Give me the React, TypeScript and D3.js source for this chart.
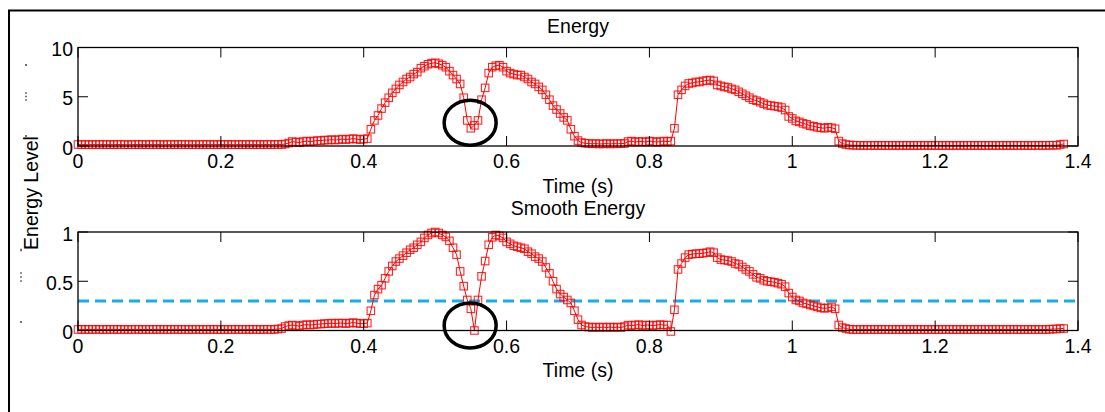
import React from "react";
import * as d3 from "d3";

// ---- data ----
const DT = 0.005; // seconds between frames
const energy: number[] = [
  0.15,0.14,0.15,0.13,0.15,0.14,0.15,0.15,0.14,0.15,
  0.14,0.15,0.15,0.14,0.13,0.15,0.14,0.15,0.15,0.14,
  0.15,0.14,0.15,0.15,0.13,0.14,0.15,0.14,0.15,0.15,
  0.14,0.15,0.13,0.15,0.14,0.15,0.15,0.14,0.15,0.14,
  0.15,0.15,0.14,0.15,0.13,0.15,0.14,0.15,0.15,0.14,
  0.15,0.14,0.15,0.15,0.14,0.15,0.16,0.15,0.2,0.3,
  0.45,0.4,0.35,0.45,0.5,0.45,0.5,0.55,0.55,0.6,
  0.6,0.65,0.6,0.65,0.7,0.65,0.7,0.75,0.7,0.65,
  0.7,0.75,1.7,2.6,3.1,3.8,4.4,4.9,5.4,5.8,
  6.2,6.5,6.8,7.0,7.3,7.5,7.9,8.1,8.3,8.4,
  8.45,8.35,8.2,8.0,7.6,7.2,6.8,6.3,4.9,2.6,
  1.8,2.1,2.6,4.7,5.9,7.4,8.0,8.15,8.2,8.0,
  7.6,7.4,7.3,7.2,7.2,7.0,6.8,6.5,6.3,6.0,
  5.7,5.2,4.7,4.1,3.7,3.3,2.9,2.6,1.7,1.0,
  0.55,0.35,0.28,0.25,0.22,0.25,0.2,0.22,0.25,0.2,
  0.25,0.22,0.25,0.25,0.45,0.5,0.4,0.45,0.45,0.4,
  0.5,0.45,0.4,0.45,0.5,0.45,0.5,1.8,5.2,5.7,
  6.1,6.35,6.4,6.5,6.5,6.6,6.65,6.7,6.6,6.2,
  6.1,6.0,5.95,5.8,5.7,5.5,5.3,5.1,4.9,4.7,
  4.6,4.45,4.3,4.15,4.1,4.05,4.0,3.9,3.65,3.0,
  2.8,2.55,2.45,2.3,2.2,2.05,2.0,1.9,1.85,1.8,
  1.9,1.85,1.75,0.5,0.25,0.15,0.1,0.08,0.07,0.06,
  0.06,0.05,0.06,0.06,0.05,0.06,0.06,0.05,0.06,0.06,
  0.05,0.06,0.06,0.05,0.06,0.06,0.05,0.06,0.06,0.05,
  0.06,0.06,0.05,0.06,0.06,0.05,0.06,0.06,0.05,0.06,
  0.06,0.05,0.06,0.06,0.05,0.06,0.06,0.05,0.06,0.06,
  0.05,0.06,0.06,0.05,0.06,0.06,0.05,0.06,0.06,0.05,
  0.06,0.06,0.07,0.08,0.07,0.15,0.2,
];
const smoothEnergy: number[] = [
  0.01,0.012,0.01,0.011,0.01,0.012,0.01,0.01,0.011,0.01,
  0.012,0.01,0.01,0.011,0.01,0.01,0.012,0.01,0.01,0.011,
  0.01,0.01,0.012,0.01,0.011,0.01,0.01,0.012,0.01,0.01,
  0.011,0.01,0.01,0.012,0.01,0.01,0.011,0.01,0.012,0.01,
  0.01,0.011,0.01,0.01,0.012,0.01,0.01,0.011,0.01,0.012,
  0.01,0.01,0.011,0.012,0.01,0.011,0.015,0.02,0.04,0.05,
  0.055,0.05,0.045,0.055,0.06,0.055,0.06,0.065,0.065,0.07,
  0.07,0.075,0.07,0.075,0.075,0.07,0.075,0.08,0.075,0.07,
  0.07,0.075,0.2,0.36,0.42,0.46,0.53,0.6,0.655,0.7,
  0.73,0.76,0.79,0.82,0.84,0.87,0.9,0.94,0.97,0.99,
  1.0,0.99,0.97,0.95,0.91,0.84,0.77,0.6,0.45,0.31,
  0.22,0.0,0.31,0.55,0.705,0.87,0.946,0.97,0.96,0.94,
  0.9,0.88,0.86,0.85,0.84,0.83,0.8,0.78,0.75,0.73,
  0.7,0.64,0.58,0.5,0.42,0.37,0.34,0.31,0.28,0.2,
  0.11,0.056,0.04,0.035,0.03,0.035,0.03,0.035,0.03,0.035,
  0.03,0.035,0.03,0.04,0.055,0.05,0.055,0.06,0.05,0.055,
  0.055,0.05,0.055,0.06,0.055,0.055,-0.01,0.21,0.62,0.68,
  0.74,0.77,0.775,0.78,0.78,0.785,0.79,0.8,0.79,0.74,
  0.72,0.715,0.71,0.7,0.68,0.67,0.645,0.62,0.6,0.57,
  0.54,0.53,0.51,0.5,0.495,0.49,0.48,0.47,0.445,0.38,
  0.34,0.31,0.3,0.28,0.27,0.26,0.25,0.24,0.23,0.225,
  0.23,0.24,0.22,0.056,0.03,0.02,0.012,0.01,0.01,0.01,
  0.01,0.01,0.011,0.01,0.01,0.01,0.011,0.01,0.01,0.01,
  0.01,0.011,0.01,0.01,0.01,0.01,0.011,0.01,0.01,0.01,
  0.011,0.01,0.01,0.01,0.011,0.01,0.01,0.01,0.01,0.011,
  0.01,0.01,0.01,0.011,0.01,0.01,0.01,0.011,0.01,0.01,
  0.01,0.011,0.01,0.01,0.01,0.011,0.01,0.01,0.01,0.01,
  0.01,0.01,0.012,0.015,0.015,0.02,0.02,
];
const threshold = 0.3;
const xTicks = [0, 0.2, 0.4, 0.6, 0.8, 1, 1.2, 1.4];
const yTicksTop = [0, 5, 10];
const yTicksBottom = [0, 0.5, 1];
const titles = ["Energy", "Smooth Energy"];
const xLabel = "Time (s)";
const yLabel = "Energy Level";
const circledTime = 0.549;

const FONT = "'Liberation Sans', Arial, Helvetica, sans-serif";
const FS = 19.5;

type PanelProps = {
  values: number[];
  yMax: number;
  yTicks: number[];
  top: number;
  bottom: number;
  title: string;
  titleY: number;
  xLabelY: number;
  circleY: number;
  thresholdLine?: number;
};

const X0 = 78, X1 = 1078;
const x = d3.scaleLinear().domain([0, 1.4]).range([X0, X1]);
const fmt = (v: number) => String(v);

function Panel(p: PanelProps) {
  const y = d3.scaleLinear().domain([0, p.yMax]).range([p.bottom, p.top]);
  const pts = p.values.map((v, i) => [i * DT, v] as [number, number]);
  const line = d3.line<[number, number]>().x(d => x(d[0])).y(d => y(d[1]));
  const TL = 10;
  const ms = 7.5;
  return (
    <g>
      <text x={(X0 + X1) / 2} y={p.titleY} textAnchor="middle" fontSize={FS} fontFamily={FONT}>{p.title}</text>
      {p.thresholdLine !== undefined && (
        <line x1={X0} x2={X1} y1={y(p.thresholdLine)} y2={y(p.thresholdLine)} stroke="#17aee8" strokeWidth={3} strokeDasharray="11,6" />
      )}
      <path d={line(pts) || ""} fill="none" stroke="#ff0000" strokeWidth={1} />
      {pts.map((d, i) => (
        <rect key={i} x={x(d[0]) - ms / 2} y={y(d[1]) - ms / 2} width={ms} height={ms} fill="none" stroke="#ff0000" strokeWidth={1.1} strokeOpacity={0.85} />
      ))}
      <rect x={X0} y={p.top} width={X1 - X0} height={p.bottom - p.top} fill="none" stroke="#000" strokeWidth={1.3} />
      {xTicks.map(t => (
        <g key={"x" + t}>
          <line x1={x(t)} x2={x(t)} y1={p.bottom} y2={p.bottom - TL} stroke="#000" strokeWidth={1} />
          <line x1={x(t)} x2={x(t)} y1={p.top} y2={p.top + TL} stroke="#000" strokeWidth={1} />
          <text x={x(t)} y={p.bottom + 22} textAnchor="middle" fontSize={FS} fontFamily={FONT}>{fmt(t)}</text>
        </g>
      ))}
      {p.yTicks.map(t => (
        <g key={"y" + t}>
          <line x1={X0} x2={X0 + TL} y1={y(t)} y2={y(t)} stroke="#000" strokeWidth={1} />
          <line x1={X1} x2={X1 - TL} y1={y(t)} y2={y(t)} stroke="#000" strokeWidth={1} />
          <text x={73} y={y(t) + 8.5} textAnchor="end" fontSize={FS} fontFamily={FONT}>{fmt(t)}</text>
        </g>
      ))}
      <text x={(X0 + X1) / 2} y={p.xLabelY} textAnchor="middle" fontSize={FS} fontFamily={FONT}>{xLabel}</text>
      <ellipse cx={x(circledTime)} cy={p.circleY} rx={26} ry={22.5} fill="none" stroke="#000" strokeWidth={3.5} />
    </g>
  );
}

export default function App() {
  const marks: [number, number, number][] = [
    [26, 65, 2], [26, 93, 1.5], [26, 96.5, 1.5], [26, 100, 1.5], [26, 136, 2],
    [21, 250, 2.5], [21, 273, 1.5], [21, 277, 1.5], [21, 281, 1.5], [21, 322, 2],
  ];
  return (
    <svg width={1105} height={412} style={{ position: "absolute", left: 0, top: 0, background: "#fff" }}>
      <rect x={0} y={0} width={1105} height={412} fill="#fff" />
      <line x1={9} x2={9} y1={10} y2={412} stroke="#000" strokeWidth={2} />
      <line x1={8} x2={1105} y1={10.5} y2={10.5} stroke="#000" strokeWidth={2} />
      {marks.map((m, i) => (
        <rect key={i} x={m[0] - 0.75} y={m[1] - m[2] / 2} width={1.5} height={m[2]} fill="#444" />
      ))}
      <Panel values={energy} yMax={10} yTicks={yTicksTop} top={47.5} bottom={146} title={titles[0]} titleY={33} xLabelY={192.5} circleY={122.7} />
      <Panel values={smoothEnergy} yMax={1} yTicks={yTicksBottom} top={232} bottom={330.5} title={titles[1]} titleY={215} xLabelY={377} circleY={325.4} thresholdLine={threshold} />
      <text transform="translate(37.5,193) rotate(-90)" textAnchor="middle" fontSize={FS} fontFamily={FONT}>{yLabel}</text>
    </svg>
  );
}
